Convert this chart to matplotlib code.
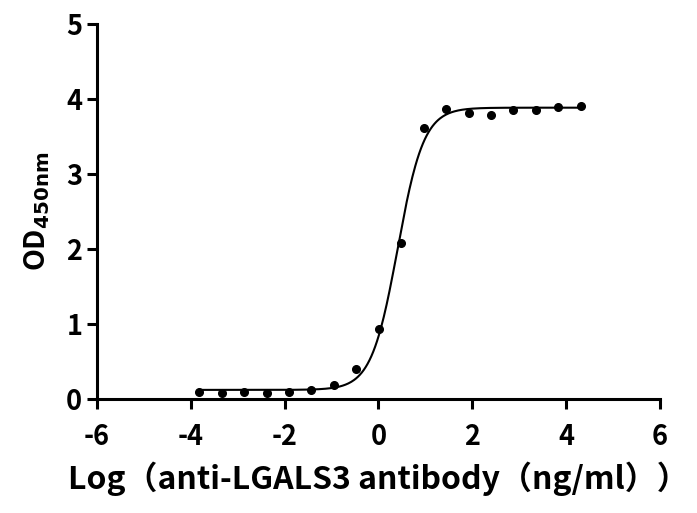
import numpy as np
import matplotlib
matplotlib.use("Agg")
import matplotlib.pyplot as plt

plt.rcParams['font.family'] = ['Noto Sans CJK SC', 'DejaVu Sans']
plt.rcParams['font.weight'] = 'bold'
plt.rcParams['mathtext.default'] = 'regular'
plt.rcParams['axes.unicode_minus'] = False

# 3-fold dilution series, log10 concentration (ng/ml)
log_conc = [-3.82, -3.34, -2.86, -2.38, -1.91, -1.43, -0.95, -0.47, 0.01,
            0.48, 0.96, 1.44, 1.92, 2.39, 2.87, 3.35, 3.83, 4.31]
od450 = [0.09, 0.08, 0.10, 0.08, 0.10, 0.12, 0.19, 0.40, 0.94,
         2.08, 3.62, 3.87, 3.81, 3.79, 3.86, 3.86, 3.89, 3.91]

x = np.array(log_conc)
y = np.array(od450)


def four_pl(p, xx):
    bottom, top, logec50, hill = p
    return bottom + (top - bottom) / (1 + 10 ** ((logec50 - xx) * hill))


# simple Levenberg-Marquardt fit of the 4PL curve
p = np.array([y.min(), y.max(), 0.3, 1.5])
lam = 1e-3
for _ in range(200):
    r = y - four_pl(p, x)
    J = np.zeros((len(x), 4))
    for i in range(4):
        dp = np.zeros(4)
        dp[i] = 1e-6
        J[:, i] = (four_pl(p + dp, x) - four_pl(p, x)) / 1e-6
    A = J.T @ J
    step = np.linalg.solve(A + lam * np.diag(np.diag(A)), J.T @ r)
    p_new = p + step
    if np.sum((y - four_pl(p_new, x)) ** 2) < np.sum(r ** 2):
        p = p_new
        lam *= 0.5
    else:
        lam *= 4

xfit = np.linspace(min(log_conc), max(log_conc), 400)
yfit = four_pl(p, xfit)

fig = plt.figure(figsize=(6.97, 5.13), dpi=100)
ax = fig.add_axes([0.139, 0.222, 0.808, 0.731])

ax.plot(xfit, yfit, color='black', linewidth=1.5)
ax.plot(log_conc, od450, 'o', color='black', markersize=5.5)

ax.set_xlim(-6, 6)
ax.set_ylim(0, 5)
ax.set_xticks([-6, -4, -2, 0, 2, 4, 6])
ax.set_yticks([0, 1, 2, 3, 4, 5])

for s in ['top', 'right']:
    ax.spines[s].set_visible(False)
for s in ['left', 'bottom']:
    ax.spines[s].set_linewidth(2.2)

ax.tick_params(width=2.2, length=7.5, labelsize=19.5)
ax.tick_params(axis='x', pad=10)
ax.tick_params(axis='y', pad=3)
for lab in ax.get_xticklabels() + ax.get_yticklabels():
    lab.set_fontweight('bold')

ax.set_xlabel('Log（anti-LGALS3 antibody（ng/ml））', fontsize=23,
              fontweight='bold', labelpad=7)
ax.set_ylabel(r'OD$_{\mathbf{450nm}}$', fontsize=20.5, fontweight='bold', labelpad=10)

fig.savefig('out.png', dpi=100)
